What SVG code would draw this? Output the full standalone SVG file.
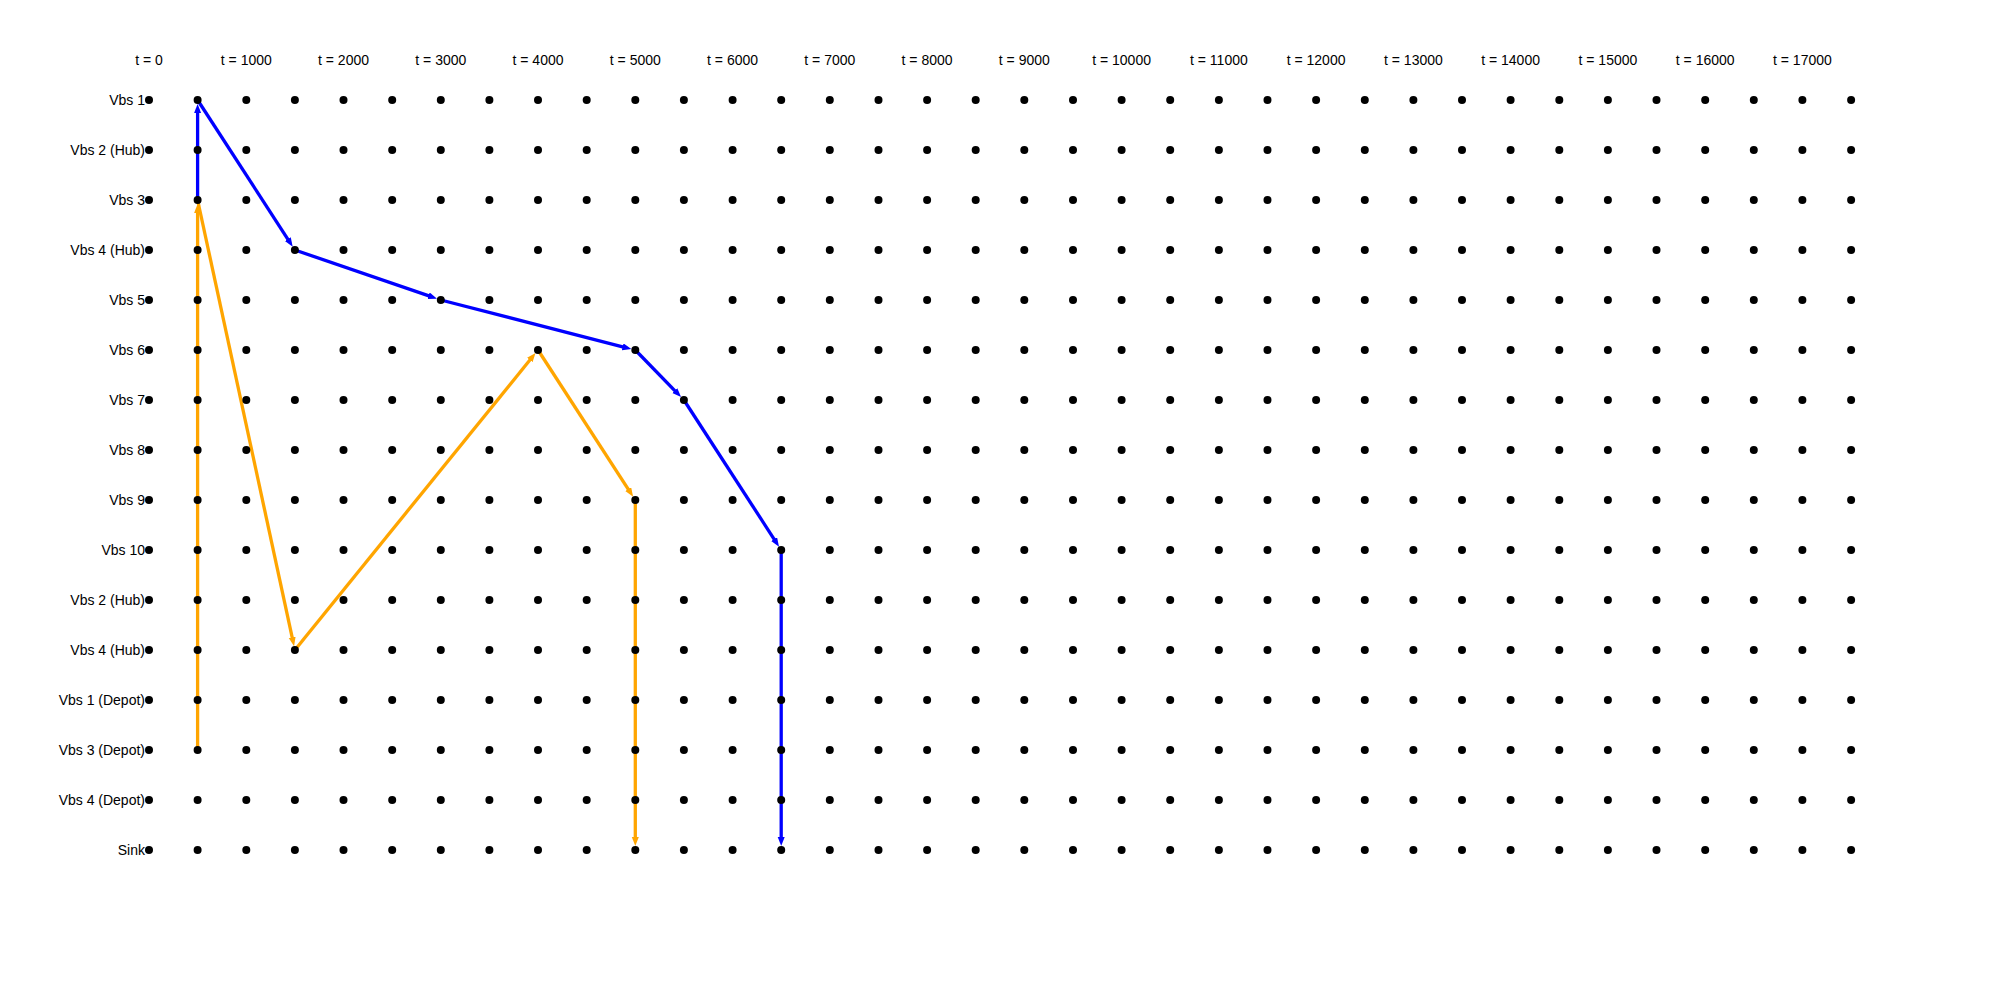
<svg xmlns="http://www.w3.org/2000/svg" xmlns:xlink="http://www.w3.org/1999/xlink" width="2000" height="1000" viewBox="0 0 2000 1000">
<style>
text{font-family:"Liberation Sans",Arial,Helvetica,sans-serif;font-size:14px;fill:#000}
.lbl{text-anchor:end}
.tl{text-anchor:middle}
.e{fill:none;stroke-width:3.3;stroke-linecap:butt}
.blue{stroke:#0000ff}
.orange{stroke:#ffa500}
.dot{fill:#000}
</style>
<defs>
<marker id="ab" markerUnits="userSpaceOnUse" markerWidth="10" markerHeight="8" refX="2" refY="3.5" orient="auto"><path d="M0,0 L9,3.5 L0,7 z" fill="#0000ff"/></marker>
<marker id="ao" markerUnits="userSpaceOnUse" markerWidth="10" markerHeight="8" refX="2" refY="3.5" orient="auto"><path d="M0,0 L9,3.5 L0,7 z" fill="#ffa500"/></marker>
<g id="dots" class="dot">
<circle cx="149.0" r="4"/><circle cx="197.6" r="4"/><circle cx="246.3" r="4"/><circle cx="294.9" r="4"/><circle cx="343.5" r="4"/><circle cx="392.2" r="4"/>
<circle cx="440.8" r="4"/><circle cx="489.4" r="4"/><circle cx="538.0" r="4"/><circle cx="586.7" r="4"/><circle cx="635.3" r="4"/><circle cx="683.9" r="4"/>
<circle cx="732.6" r="4"/><circle cx="781.2" r="4"/><circle cx="829.8" r="4"/><circle cx="878.5" r="4"/><circle cx="927.1" r="4"/><circle cx="975.7" r="4"/>
<circle cx="1024.3" r="4"/><circle cx="1073.0" r="4"/><circle cx="1121.6" r="4"/><circle cx="1170.2" r="4"/><circle cx="1218.9" r="4"/><circle cx="1267.5" r="4"/>
<circle cx="1316.1" r="4"/><circle cx="1364.8" r="4"/><circle cx="1413.4" r="4"/><circle cx="1462.0" r="4"/><circle cx="1510.6" r="4"/><circle cx="1559.3" r="4"/>
<circle cx="1607.9" r="4"/><circle cx="1656.5" r="4"/><circle cx="1705.2" r="4"/><circle cx="1753.8" r="4"/><circle cx="1802.4" r="4"/><circle cx="1851.1" r="4"/>
</g>
</defs>
<rect width="2000" height="1000" fill="#fff"/>
<g id="time-axis">
<text class="tl" x="149.0" y="65">t = 0</text>
<text class="tl" x="246.3" y="65">t = 1000</text>
<text class="tl" x="343.5" y="65">t = 2000</text>
<text class="tl" x="440.8" y="65">t = 3000</text>
<text class="tl" x="538.0" y="65">t = 4000</text>
<text class="tl" x="635.3" y="65">t = 5000</text>
<text class="tl" x="732.6" y="65">t = 6000</text>
<text class="tl" x="829.8" y="65">t = 7000</text>
<text class="tl" x="927.1" y="65">t = 8000</text>
<text class="tl" x="1024.3" y="65">t = 9000</text>
<text class="tl" x="1121.6" y="65">t = 10000</text>
<text class="tl" x="1218.9" y="65">t = 11000</text>
<text class="tl" x="1316.1" y="65">t = 12000</text>
<text class="tl" x="1413.4" y="65">t = 13000</text>
<text class="tl" x="1510.6" y="65">t = 14000</text>
<text class="tl" x="1607.9" y="65">t = 15000</text>
<text class="tl" x="1705.2" y="65">t = 16000</text>
<text class="tl" x="1802.4" y="65">t = 17000</text>
</g>
<g id="connectors">
<line class="e orange" x1="197.6" y1="750" x2="197.6" y2="211" marker-end="url(#ao)"/>
<line class="e orange" x1="197.6" y1="200" x2="292.6" y2="639.3" marker-end="url(#ao)"/>
<line class="e orange" x1="294.9" y1="650" x2="531.1" y2="358.5" marker-end="url(#ao)"/>
<line class="e orange" x1="538.0" y1="350" x2="629.3" y2="490.8" marker-end="url(#ao)"/>
<line class="e orange" x1="635.3" y1="500" x2="635.3" y2="839" marker-end="url(#ao)"/>
<line class="e blue" x1="197.6" y1="200" x2="197.6" y2="111" marker-end="url(#ab)"/>
<line class="e blue" x1="197.6" y1="100" x2="288.9" y2="240.8" marker-end="url(#ab)"/>
<line class="e blue" x1="294.9" y1="250" x2="430.4" y2="296.4" marker-end="url(#ab)"/>
<line class="e blue" x1="440.8" y1="300" x2="624.6" y2="347.3" marker-end="url(#ab)"/>
<line class="e blue" x1="635.3" y1="350" x2="676.2" y2="392.1" marker-end="url(#ab)"/>
<line class="e blue" x1="683.9" y1="400" x2="775.2" y2="540.8" marker-end="url(#ab)"/>
<line class="e blue" x1="781.2" y1="550" x2="781.2" y2="839" marker-end="url(#ab)"/>
</g>
<g id="row-vbs1" transform="translate(0,100)"><text class="lbl" x="145" y="5">Vbs 1</text><use xlink:href="#dots" href="#dots"/></g>
<g id="row-vbs2-hub" transform="translate(0,150)"><text class="lbl" x="145" y="5">Vbs 2 (Hub)</text><use xlink:href="#dots" href="#dots"/></g>
<g id="row-vbs3" transform="translate(0,200)"><text class="lbl" x="145" y="5">Vbs 3</text><use xlink:href="#dots" href="#dots"/></g>
<g id="row-vbs4-hub" transform="translate(0,250)"><text class="lbl" x="145" y="5">Vbs 4 (Hub)</text><use xlink:href="#dots" href="#dots"/></g>
<g id="row-vbs5" transform="translate(0,300)"><text class="lbl" x="145" y="5">Vbs 5</text><use xlink:href="#dots" href="#dots"/></g>
<g id="row-vbs6" transform="translate(0,350)"><text class="lbl" x="145" y="5">Vbs 6</text><use xlink:href="#dots" href="#dots"/></g>
<g id="row-vbs7" transform="translate(0,400)"><text class="lbl" x="145" y="5">Vbs 7</text><use xlink:href="#dots" href="#dots"/></g>
<g id="row-vbs8" transform="translate(0,450)"><text class="lbl" x="145" y="5">Vbs 8</text><use xlink:href="#dots" href="#dots"/></g>
<g id="row-vbs9" transform="translate(0,500)"><text class="lbl" x="145" y="5">Vbs 9</text><use xlink:href="#dots" href="#dots"/></g>
<g id="row-vbs10" transform="translate(0,550)"><text class="lbl" x="145" y="5">Vbs 10</text><use xlink:href="#dots" href="#dots"/></g>
<g id="row-vbs2-hub-b" transform="translate(0,600)"><text class="lbl" x="145" y="5">Vbs 2 (Hub)</text><use xlink:href="#dots" href="#dots"/></g>
<g id="row-vbs4-hub-b" transform="translate(0,650)"><text class="lbl" x="145" y="5">Vbs 4 (Hub)</text><use xlink:href="#dots" href="#dots"/></g>
<g id="row-vbs1-depot" transform="translate(0,700)"><text class="lbl" x="145" y="5">Vbs 1 (Depot)</text><use xlink:href="#dots" href="#dots"/></g>
<g id="row-vbs3-depot" transform="translate(0,750)"><text class="lbl" x="145" y="5">Vbs 3 (Depot)</text><use xlink:href="#dots" href="#dots"/></g>
<g id="row-vbs4-depot" transform="translate(0,800)"><text class="lbl" x="145" y="5">Vbs 4 (Depot)</text><use xlink:href="#dots" href="#dots"/></g>
<g id="row-sink" transform="translate(0,850)"><text class="lbl" x="145" y="5">Sink</text><use xlink:href="#dots" href="#dots"/></g>
</svg>
